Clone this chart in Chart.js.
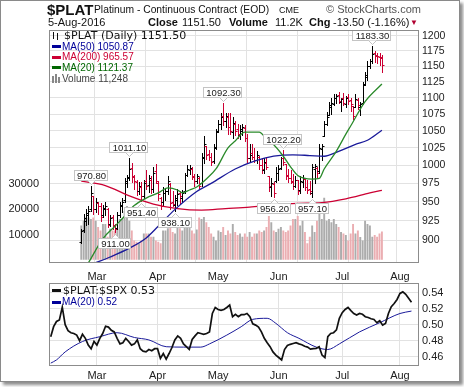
<!DOCTYPE html>
<html>
<head>
<meta charset="utf-8">
<script src="https://cdn.jsdelivr.net/npm/chart.js@4.4.0/dist/chart.umd.min.js"></script>
<style>
body { margin: 0; background: #fff; width: 464px; height: 387px; position: relative; overflow: hidden; font-family: Arial, "Liberation Sans", sans-serif; color: #111; }
#frame { position: absolute; left: 0; top: 0; width: 458px; height: 380px; border: 1px solid #8a8a8a; box-shadow: 3px 3px 3px rgba(0,0,0,.45); background: #fff; }
canvas { position: absolute; left: 0; }
.t { position: absolute; white-space: nowrap; line-height: 1; }
.dv { font-family: "DejaVu Sans", sans-serif; font-size: 11px; }
.ic { position: absolute; left: 52px; width: 9px; height: 3px; }
.vb { position: absolute; width: 2px; background: #888; }
.ob { position: absolute; width: 1px; background: #111; }
</style>
</head>
<body>
<div id="frame"></div>
<canvas id="main" width="464" height="272" style="top:0"></canvas>
<canvas id="ratio" width="464" height="117" style="top:270px"></canvas>

<div class="t" style="left:47px;top:2px;font-size:15px;font-weight:bold">$PLAT</div>
<div class="t" style="left:94px;top:4.8px;font-size:10.3px">Platinum - Continuous Contract (EOD)</div>
<div class="t" style="left:279px;top:5.5px;font-size:9px">CME</div>
<div class="t" style="left:326px;top:4px;font-size:11px;color:#555">© StockCharts.com</div>
<div class="t" style="left:48px;top:17px;font-size:11px">5-Aug-2016</div>
<div class="t" style="left:148px;top:17px;font-size:11px;font-weight:bold">Close</div>
<div class="t" style="left:182px;top:17px;font-size:11px">1151.50</div>
<div class="t" style="left:229px;top:17px;font-size:11px;font-weight:bold">Volume</div>
<div class="t" style="left:275px;top:17px;font-size:11px">11.2K</div>
<div class="t" style="left:309px;top:17px;font-size:11px;font-weight:bold">Chg</div>
<div class="t" style="left:333px;top:17px;font-size:11px">-13.50 (-1.16%)</div>
<div class="t" style="left:410px;top:19px;font-size:8px;color:#b00030">▼</div>

<div class="ob" style="left:53px;top:32px;height:7px"></div>
<div class="ob" style="left:57px;top:33px;height:7px"></div>
<div class="t dv" style="left:64px;top:30.2px">$PLAT (Daily) 1151.50</div>
<div class="ic" style="top:45px;background:#000099"></div>
<div class="t" style="left:62px;top:41.6px;font-size:10px;color:#000099">MA(50) 1050.87</div>
<div class="ic" style="top:55.5px;background:#cc0033"></div>
<div class="t" style="left:62px;top:52.1px;font-size:10px;color:#cc0033">MA(200) 965.57</div>
<div class="ic" style="top:66px;background:#006600"></div>
<div class="t" style="left:62px;top:62.6px;font-size:10px;color:#006600">MA(20) 1121.37</div>
<div class="vb" style="left:52px;top:76px;height:7px"></div>
<div class="vb" style="left:55px;top:74px;height:9px"></div>
<div class="vb" style="left:58px;top:77px;height:6px"></div>
<div class="t" style="left:62px;top:73.6px;font-size:10px;color:#444">Volume 11,248</div>

<div class="ic" style="top:289.2px;background:#111"></div>
<div class="t dv" style="left:63px;top:285.4px">$PLAT:$SPX 0.53</div>
<div class="ic" style="top:300.8px;background:#000099"></div>
<div class="t" style="left:62px;top:297.4px;font-size:10px;color:#000099">MA(20) 0.52</div>

<script>
// Daily bars, 5-Feb-2016 .. 5-Aug-2016 (index 0 = first bar)
const opens = [898,913,925,932,940,958,941,948,945,932,940,940,921,930,920,916,933,944,952,976,
  984,997,984,977,964,970,958,978,973,980,968,992,976,955,950,962,964,974,950,946,
  953,962,955,964,986,994,995,984,978,983,975,1010,1028,1016,1012,1006,1026,1049,1060,1072,
  1064,1070,1056,1048,1060,1052,1044,1050,1054,1040,1010,1018,1012,1007,1012,1001,994,1004,985,970,
  974,978,990,996,1010,1002,986,983,977,972,979,966,977,981,970,967,962,995,996,992,
  1024,1043,1060,1074,1086,1090,1100,1104,1093,1100,1090,1101,1096,1087,1086,1097,1085,1092,1122,1133,
  1150,1158,1172,1166,1165,1164];
const highs = [915,934,940,944,970.8,958,955,950,948,946,950,942,933,933,921,937,950,955,982,987,
  1011.1,1003,987,980,977,977,980,993,987,985,998,1002,978,956,970,968,985,976,965,959,
  968,965,966,990,1001,1000,998,988,988,984,1017,1043,1028,1022,1018,1030,1052,1066,1077,1092.3,
  1077,1076,1077,1070,1065,1060,1058,1060,1058,1045,1030,1030,1025,1020,1013,1010,1010,1012,985,982,
  977,998,1000,1012,1022.2,1002,995,993,988,985,980,985,986,983,979,978,1002,1002,998,1030,
  1030,1065,1078,1094,1100,1105,1106,1109,1100,1108,1102,1106,1100,1087,1105,1100,1093,1125,1141,1158,
  1161,1183.3,1174,1172,1172,1168];
const lows = [896,911,919,921,938,934,937,934,925,930,932,917,918,914,911,914,930,937,950,970,
  980,977,968,959,960,951.4,955,968,963,962,963,975,952,940,946,952,960,940,945,938.1,
  946,948,950,962,985,988,981,972,975,969,972,1003,1009,1007,1000,1004,1023,1048,1052,1058,
  1056,1045,1045,1040,1044,1040,1038,1044,1035,1005,1005,1009,1005,1003,995,990,990,995,965,958,
  956.2,977,980,995,1000,981,977,975,968,970,960,962,970,966,962,960,957.1,975,982,990,
  1008,1043,1058,1074,1075,1088,1092,1092,1079,1088,1085,1090,1080,1067,1085,1083,1074,1090,1120,1128,
  1147,1155,1156,1155,1152,1141];
const closes = [912,928,935,938,962,940,950,944,930,942,945,920,928,918,915,932,946,950,978,982,
  995,985,978,965,972,958,975,972,982,968,990,978,960,945,962,965,978,948,947,955,
  960,958,962,986,995,997,985,978,985,972,1012,1030,1015,1012,1005,1025,1048,1060,1070,1065,
  1072,1055,1050,1062,1050,1045,1052,1055,1040,1010,1015,1012,1008,1015,1000,995,1005,998,972,975,
  962,990,995,1010,1005,985,982,978,972,980,965,978,982,970,966,964,998,999,990,1025,
  1028,1060,1070,1088,1092,1100,1102,1095,1098,1092,1100,1095,1090,1072,1098,1088,1090,1120,1135,1150,
  1158,1170,1168,1166,1165,1151.5];
const volumes = [13600,15500,16800,16800,16200,16800,15500,13000,11600,14200,14200,9100,12300,11600,11600,12300,16200,16200,19400,21300,
  15500,11600,7700,7200,6600,7700,10400,10400,10400,9100,9100,7700,7200,6600,11600,11600,12500,13600,11000,10400,
  14200,12500,11600,13000,15500,16200,11600,10400,12000,16800,16200,17000,14900,13000,10400,9100,7700,11600,11000,13000,
  9800,11600,10400,14200,11000,9800,10400,9100,10400,9100,11000,9100,10400,10400,11600,11000,11600,13000,17400,14900,
  11600,11000,12300,13000,11600,11000,11600,13600,16200,16200,17400,13600,15500,11000,6600,9100,13600,11000,15500,18700,
  16200,24600,15500,16200,14900,16200,14200,13000,11000,10400,9800,7700,10400,14200,10400,11600,9000,7700,15500,14200,
  13600,9100,9800,9100,10400,11248];

// moving averages at sample bars
const ma20Idx = [3,9,14,18,22,27,32,36,40,42,45,48,52,56,61,64,68,74,77,79,84,87,90,96,99,101,106,110,112,118,125];
const ma20Val = [872,902,918,931,945,955,962,969,966,962,966,970,981,995,1025,1035,1048,1048,1038,1033,1013,998,986,981,982,995,1020,1045,1057,1094,1121.37];
const ma50Idx = [6,12,20,27,32,39,48,54,64,72,80,88,95,101,107,114,119,125];
const ma50Val = [872,879,890,903,918,940,964,975,995,1006,1013,1015,1014,1013,1020,1030,1036,1050.87];
const ma200Idx = [0,10,20,30,40,50,60,70,80,90,100,110,120,125];
const ma200Val = [978,972,958,947,941,939,941,943,946,948,949,954,962,965.57];

// $PLAT:$SPX ratio
const ratio = [0.485,0.4975,0.504,0.506,0.522,0.500,0.4925,0.490,0.489,0.487,0.480,0.488,0.483,0.4745,0.470,0.479,0.4745,0.483,0.489,0.498,
  0.497,0.493,0.491,0.483,0.476,0.4775,0.483,0.479,0.4745,0.476,0.481,0.470,0.467,0.466,0.469,0.4675,0.470,0.470,0.458,0.464,
  0.457,0.464,0.4715,0.481,0.486,0.483,0.476,0.4725,0.469,0.4815,0.486,0.490,0.489,0.488,0.489,0.491,0.514,0.5215,0.519,0.518,
  0.519,0.5215,0.5245,0.510,0.513,0.510,0.5125,0.5125,0.514,0.510,0.501,0.4995,0.497,0.491,0.483,0.4775,0.4725,0.466,0.462,0.459,
  0.456,0.469,0.474,0.4755,0.4765,0.4775,0.476,0.475,0.473,0.472,0.4695,0.470,0.4705,0.4725,0.462,0.459,0.485,0.489,0.490,0.4935,
  0.508,0.515,0.519,0.5215,0.5175,0.514,0.512,0.514,0.513,0.510,0.509,0.5075,0.5065,0.5025,0.505,0.4995,0.5015,0.514,0.5225,0.5265,
  0.5315,0.539,0.541,0.538,0.533,0.528];
const ratioMaIdx = [0,2,5,11,17,23,29,34,40,46,52,55,61,66,70,75,78,82,86,92,96,100,107,114,121,125];
const ratioMaVal = [0.452,0.456,0.466,0.479,0.485,0.490,0.484,0.481,0.4725,0.472,0.472,0.476,0.487,0.4975,0.5067,0.508,0.5017,0.490,0.483,0.472,0.469,0.476,0.491,0.5025,0.514,0.517];

// axes
const monthTicks = [16, 37, 58, 79, 101, 121];
const monthLabels = ['Mar', 'Apr', 'May', 'Jun', 'Jul', 'Aug'];
const priceTicks = [900, 925, 950, 975, 1000, 1025, 1050, 1075, 1100, 1125, 1150, 1175, 1200];
const volTicks = [10000, 20000, 30000];
const ratioTicks = [0.46, 0.48, 0.50, 0.52, 0.54];

// labelled highs / lows
const noteBars = [4, 14, 20, 25, 39, 59, 80, 84, 96, 121];
const noteKinds = ['high', 'low', 'high', 'low', 'low', 'high', 'low', 'high', 'low', 'high'];

const isUp = closes.map((c, i) => i === 0 || c >= closes[i - 1]);
const pts = (idx, val) => idx.map((x, k) => ({ x: x, y: val[k] }));
const gridCol = '#e2e2e2';

const framePlugin = {
    id: 'frame',
    afterDraw(chart) {
        const a = chart.chartArea, ctx = chart.ctx;
        ctx.save();
        ctx.strokeStyle = '#8c8c8c';
        ctx.lineWidth = 1;
        ctx.strokeRect(Math.round(a.left) + 0.5, Math.round(a.top) + 0.5, Math.round(a.right - a.left) - 1, Math.round(a.bottom - a.top) - 1);
        ctx.restore();
    }
};

// OHLC bars, drawn right after the volume histogram
const ohlcPlugin = {
    id: 'ohlc',
    afterDatasetDraw(chart, args) {
        if (args.index !== 0) return;
        const xs = chart.scales.x, ys = chart.scales.y, ctx = chart.ctx;
        ctx.save();
        ctx.lineWidth = 1;
        closes.forEach((c, i) => {
            ctx.strokeStyle = isUp[i] ? '#000000' : '#cc0033';
            const px = Math.round(xs.getPixelForValue(i)) + 0.5;
            const hi = Math.round(ys.getPixelForValue(highs[i]));
            const lo = Math.round(ys.getPixelForValue(lows[i]));
            const op = Math.round(ys.getPixelForValue(opens[i])) + 0.5;
            const cl = Math.round(ys.getPixelForValue(c)) + 0.5;
            ctx.beginPath();
            ctx.moveTo(px, hi);
            ctx.lineTo(px, lo + 1);
            ctx.moveTo(px - 2, op);
            ctx.lineTo(px, op);
            ctx.moveTo(px, cl);
            ctx.lineTo(px + 2, cl);
            ctx.stroke();
        });
        ctx.restore();
    }
};

const notePlugin = {
    id: 'notes',
    afterDatasetsDraw(chart) {
        const xs = chart.scales.x, ys = chart.scales.y, ctx = chart.ctx;
        ctx.save();
        ctx.font = '9.5px Arial';
        ctx.textAlign = 'center';
        ctx.textBaseline = 'middle';
        noteBars.forEach((i, k) => {
            const high = noteKinds[k] === 'high';
            const v = high ? highs[i] : lows[i];
            const txt = v.toFixed(2);
            const w = Math.round(ctx.measureText(txt).width) + 5, h = 11;
            const cx = Math.round(xs.getPixelForValue(i));
            const py = ys.getPixelForValue(v);
            const top = high ? Math.round(py) - 5 - h : Math.round(py) + 6;
            const left = cx - Math.round(w / 2);
            ctx.fillStyle = '#ffffff';
            ctx.fillRect(left, top, w, h);
            ctx.strokeStyle = '#c4c4c4';
            ctx.strokeRect(left + 0.5, top + 0.5, w - 1, h - 1);
            const edge = high ? top + h - 0.5 : top + 0.5;
            const tip = high ? edge + 4 : edge - 4;
            ctx.beginPath();
            ctx.moveTo(cx - 3.5, edge);
            ctx.lineTo(cx + 0.5, tip);
            ctx.lineTo(cx + 4.5, edge);
            ctx.fill();
            ctx.stroke();
            ctx.fillStyle = '#1a1a1a';
            ctx.fillText(txt, cx + 0.5, top + h / 2 + 0.5);
        });
        ctx.restore();
    }
};

// month names between the two panels, placed with the lower chart's x scale
const topMonthPlugin = {
    id: 'topMonths',
    afterDraw(chart) {
        const xs = chart.scales.x, ctx = chart.ctx;
        ctx.save();
        ctx.font = '11px Arial';
        ctx.fillStyle = '#222';
        ctx.textAlign = 'center';
        ctx.textBaseline = 'middle';
        monthTicks.forEach((v, k) => ctx.fillText(monthLabels[k], xs.getPixelForValue(v), 6.5));
        ctx.restore();
    }
};

const monthAxis = {
    type: 'linear', min: -0.6, max: 127.6,
    afterBuildTicks: s => { s.ticks = monthTicks.map(v => ({ value: v })); },
    grid: { color: gridCol, drawTicks: false },
    border: { display: false }
};

new Chart(document.getElementById('main'), {
    type: 'bar',
    data: {
        datasets: [{
            label: 'Volume',
            data: volumes.map((v, i) => ({ x: i, y: v })),
            yAxisID: 'yVol',
            backgroundColor: isUp.map(u => u ? '#acacac' : '#ebaeb2'),
            borderWidth: 0,
            categoryPercentage: 1,
            barPercentage: 0.8,
            order: 10
        }, {
            type: 'line', label: 'MA(200)', data: pts(ma200Idx, ma200Val), yAxisID: 'y',
            borderColor: '#cc0033', borderWidth: 1.3, pointRadius: 0, cubicInterpolationMode: 'monotone', order: 3
        }, {
            type: 'line', label: 'MA(50)', data: pts(ma50Idx, ma50Val), yAxisID: 'y',
            borderColor: '#1a1a9a', borderWidth: 1.3, pointRadius: 0, cubicInterpolationMode: 'monotone', order: 2
        }, {
            type: 'line', label: 'MA(20)', data: pts(ma20Idx, ma20Val), yAxisID: 'y',
            borderColor: '#2a8a2a', borderWidth: 1.3, pointRadius: 0, cubicInterpolationMode: 'monotone', order: 1
        }]
    },
    options: {
        responsive: false,
        animation: false,
        events: [],
        devicePixelRatio: 1,
        layout: { padding: { top: 30, bottom: 2, left: 0, right: 0 } },
        plugins: { legend: { display: false }, tooltip: { enabled: false } },
        scales: {
            x: Object.assign({}, monthAxis, {
                ticks: { display: false },
                afterFit: s => { s.height = 0; }
            }),
            y: {
                type: 'logarithmic', position: 'right', min: 872, max: 1210,
                afterBuildTicks: s => { s.ticks = priceTicks.map(v => ({ value: v })); },
                ticks: { callback: v => String(v), autoSkip: false, font: { family: 'Arial', size: 10.5 }, color: '#222', padding: 3 },
                grid: { color: gridCol, drawTicks: false },
                border: { display: false },
                afterFit: s => { s.width = 45; }
            },
            yVol: {
                type: 'linear', position: 'left', min: -1154, max: 91154,
                afterBuildTicks: s => { s.ticks = volTicks.map(v => ({ value: v })); },
                ticks: { callback: v => String(v), autoSkip: false, font: { family: 'Arial', size: 11 }, color: '#222', padding: 2 },
                grid: { display: false },
                border: { display: false },
                afterFit: s => { s.width = 49; }
            }
        }
    },
    plugins: [ohlcPlugin, notePlugin, framePlugin]
});

new Chart(document.getElementById('ratio'), {
    type: 'line',
    data: {
        datasets: [{
            label: '$PLAT:$SPX', data: ratio.map((v, i) => ({ x: i, y: v })),
            borderColor: '#111111', borderWidth: 1.7, pointRadius: 0, tension: 0
        }, {
            label: 'MA(20)', data: pts(ratioMaIdx, ratioMaVal),
            borderColor: '#1a1a9a', borderWidth: 1, pointRadius: 0, cubicInterpolationMode: 'monotone'
        }]
    },
    options: {
        responsive: false,
        animation: false,
        events: [],
        devicePixelRatio: 1,
        layout: { padding: { top: 13, bottom: 0, left: 49, right: 0 } },
        plugins: { legend: { display: false }, tooltip: { enabled: false } },
        scales: {
            x: Object.assign({}, monthAxis, {
                position: 'bottom',
                ticks: { callback: (v, k) => monthLabels[k], autoSkip: false, maxRotation: 0, font: { family: 'Arial', size: 11 }, color: '#222', padding: 3 },
                afterFit: s => { s.height = 21; }
            }),
            y: {
                type: 'linear', position: 'right', min: 0.4484, max: 0.5521,
                afterBuildTicks: s => { s.ticks = ratioTicks.map(v => ({ value: v })); },
                ticks: { callback: v => v.toFixed(2), autoSkip: false, font: { family: 'Arial', size: 11 }, color: '#222', padding: 3 },
                grid: { color: gridCol, drawTicks: false },
                border: { display: false },
                afterFit: s => { s.width = 45; }
            }
        }
    },
    plugins: [topMonthPlugin, framePlugin]
});
</script>
</body>
</html>
